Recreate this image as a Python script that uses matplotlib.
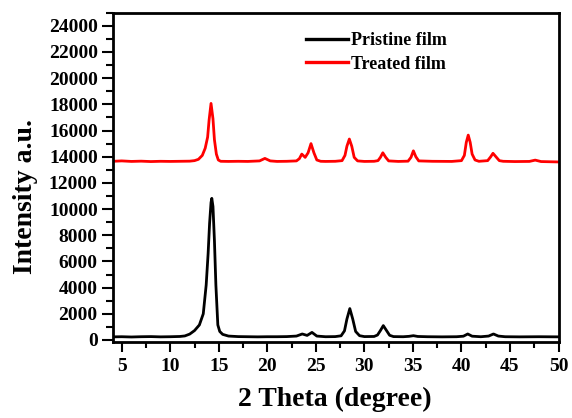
import matplotlib
matplotlib.use("Agg")
import matplotlib.pyplot as plt
from matplotlib.ticker import MultipleLocator

plt.rcParams['font.family'] = ['Liberation Serif', 'DejaVu Serif']
plt.rcParams['font.weight'] = 'bold'

# XRD traces: 2-theta positions (degree) and intensities (a.u.)
pristine_2theta = [4.1, 5, 6, 7, 8, 9, 10, 11, 11.5, 12, 12.5, 13, 13.4, 13.7, 13.9,
                   14.05, 14.2, 14.28, 14.4, 14.55, 14.7, 14.9, 15.1, 15.4, 16, 17,
                   18, 19, 20, 21, 22, 23, 23.6, 24.1, 24.6, 25.1, 26, 27, 27.6,
                   27.95, 28.2, 28.5, 28.8, 29.1, 29.5, 30, 31, 31.35, 31.65, 31.95,
                   32.3, 32.6, 33, 34, 34.6, 35.05, 35.5, 36.5, 38, 39.5, 40.2, 40.65,
                   41.1, 42, 42.8, 43.3, 43.8, 44.5, 46, 48, 50]
pristine_int = [240, 250, 230, 250, 260, 240, 250, 270, 310, 450, 720, 1150, 2000,
                4200, 6600, 8900, 10500, 10820, 10200, 7600, 4200, 1150, 650, 430,
                300, 260, 250, 240, 250, 250, 260, 300, 460, 350, 580, 300, 250,
                260, 320, 700, 1600, 2400, 1600, 650, 330, 260, 270, 380, 720, 1100,
                700, 360, 260, 250, 280, 330, 270, 250, 240, 250, 290, 460, 290,
                250, 300, 460, 300, 250, 240, 250, 240]

treated_2theta = [4.1, 5, 6, 7, 8, 9, 10, 11, 12, 12.5, 12.9, 13.3, 13.6, 13.85, 14.0,
                  14.2, 14.4, 14.55, 14.75, 14.95, 15.2, 16, 17, 18, 19.2, 19.75, 20.3,
                  21, 22, 23, 23.3, 23.55, 23.9, 24.2, 24.5, 24.8, 25.1, 25.5, 26, 27,
                  27.7, 28.0, 28.2, 28.45, 28.7, 28.95, 29.3, 30, 31, 31.4, 31.65,
                  31.9, 32.2, 32.5, 33.5, 34.5, 34.8, 35.05, 35.3, 35.6, 37, 39, 40.0,
                  40.3, 40.5, 40.7, 40.9, 41.1, 41.4, 41.8, 42.7, 43.0, 43.25, 43.55,
                  43.9, 44.3, 45.5, 47, 47.6, 48.2, 50]
treated_int = [13650, 13680, 13640, 13660, 13630, 13650, 13640, 13650, 13660, 13700,
               13800, 14100, 14650, 15500, 16800, 18070, 16900, 15300, 14200, 13750,
               13650, 13640, 13650, 13640, 13680, 13870, 13680, 13640, 13650, 13680,
               13850, 14200, 13950, 14300, 15000, 14300, 13750, 13650, 13640, 13650,
               13700, 14100, 14800, 15350, 14800, 13950, 13680, 13640, 13650, 13700,
               13950, 14300, 13950, 13680, 13640, 13660, 13950, 14450, 14000, 13680,
               13650, 13640, 13700, 14100, 15100, 15650, 15100, 14200, 13750, 13650,
               13700, 13980, 14260, 14000, 13700, 13650, 13630, 13640, 13740, 13630,
               13600]

fig = plt.figure(figsize=(5.72, 4.18), dpi=100)
ax = fig.add_axes([113 / 572, 1 - 341.7 / 418, 445.5 / 572, 329 / 418])

ax.plot(pristine_2theta, pristine_int, color='black', lw=2.0, label='Pristine film')
ax.plot(treated_2theta, treated_int, color='#ff0000', lw=2.0, label='Treated film')

ax.set_xlim(4.1, 50)
ax.set_ylim(-130, 25000)
ax.xaxis.set_major_locator(MultipleLocator(5))
ax.xaxis.set_minor_locator(MultipleLocator(2.5))
ax.yaxis.set_major_locator(MultipleLocator(2000))
ax.yaxis.set_minor_locator(MultipleLocator(1000))

ax.tick_params(which='both', direction='out', top=False, right=False, width=1.5,
               labelsize=14)
ax.tick_params(axis='y', which='major', length=8, pad=3)
ax.tick_params(axis='y', which='minor', length=5)
ax.tick_params(axis='x', which='major', length=7, pad=5)
ax.tick_params(axis='x', which='minor', length=4)
for lab in ax.get_xticklabels() + ax.get_yticklabels():
    lab.set_fontweight('bold')
for sp in ax.spines.values():
    sp.set_linewidth(2)

fig.text(26 / 572, 1 - 197 / 418, 'Intensity a.u.', rotation=90, ha='center',
         va='center', fontsize=20, fontweight='bold')
fig.text(335 / 572, 1 - 399 / 418, '2 Theta (degree)', ha='center', va='center',
         fontsize=20, fontweight='bold')

leg = ax.legend(loc='upper left', bbox_to_anchor=(0.434, 0.94), frameon=False,
                fontsize=13, handlelength=2.3, handletextpad=0.2,
                labelspacing=0.35, borderpad=0, borderaxespad=0)
for line in leg.get_lines():
    line.set_linewidth(2.4)
for t in leg.get_texts():
    t.set_fontweight('bold')

fig.savefig('out.png', dpi=100)
